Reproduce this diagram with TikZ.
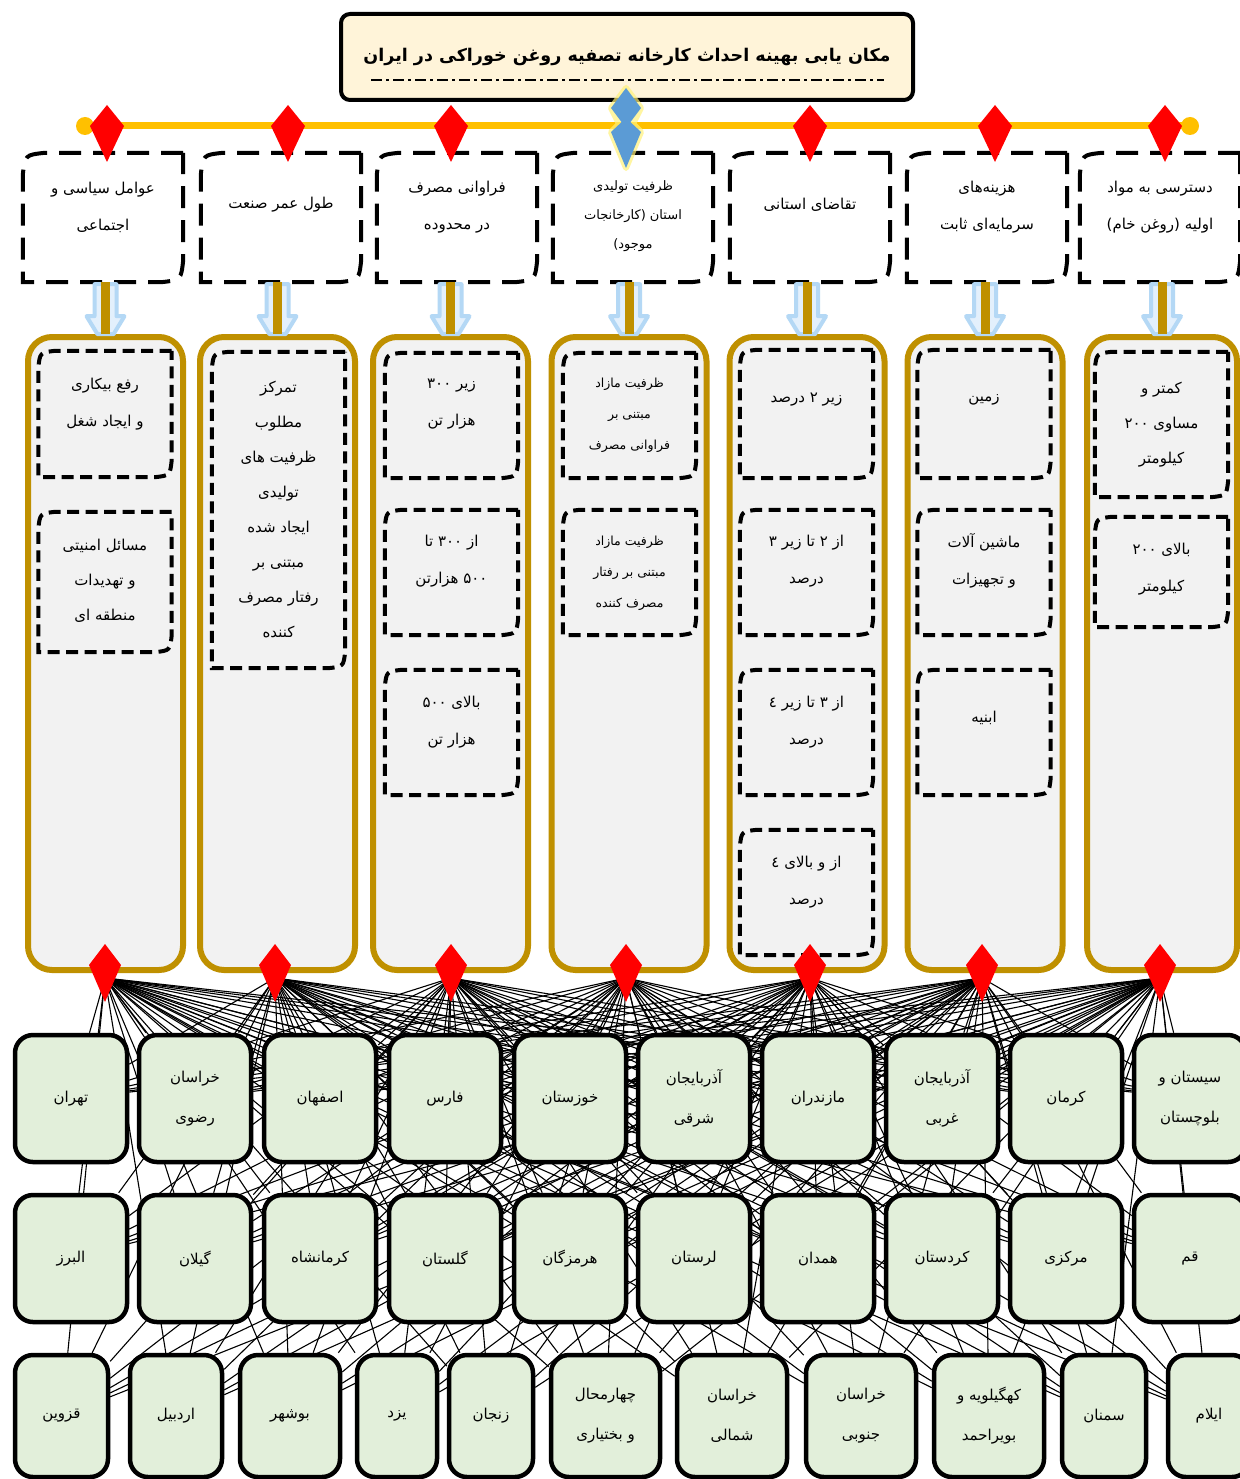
\documentclass[tikz,border=0pt]{standalone}
\usepackage{fontspec}
\TeXXeTstate=1
\newfontfamily\fafont[Script=Arabic]{DejaVu Sans}
\newcommand\fa[1]{{\fafont\beginR #1\endR}}
\usetikzlibrary{calc}
\pgfdeclarelayer{bg}
\pgfsetlayers{bg,main}
\definecolor{goldline}{HTML}{FFC000}
\definecolor{goldbox}{HTML}{BF9000}
\definecolor{panel}{HTML}{F2F2F2}
\definecolor{prov}{HTML}{E2EFDA}
\definecolor{titlefill}{HTML}{FFF4D9}
\definecolor{kblue}{HTML}{5B9BD5}
\definecolor{glowblue}{HTML}{E3F0FC}
\definecolor{glowedge}{HTML}{B4D8F5}
\definecolor{kred}{HTML}{FF0000}
\definecolor{halo}{HTML}{FFF27A}
\newcommand\snipoutline[3]{\draw[#3] (#1.north east) -- ([xshift=#2pt]#1.north west) .. controls ([xshift=0.1*#2pt,yshift=-0.1*#2pt]#1.north west) .. ([yshift=-#2pt]#1.north west) -- (#1.south west) -- ([xshift=-#2pt]#1.south east) .. controls ([xshift=-0.1*#2pt,yshift=0.1*#2pt]#1.south east) .. ([yshift=#2pt]#1.south east) -- cycle;}
\newcommand\kite[6]{\fill[#6] (#1,#2) -- ({#1+#5},#3) -- (#1,#4) -- ({#1-#5},#3) -- cycle;}
\begin{document}
\begin{tikzpicture}[x=1pt,y=-1pt,
  critbox/.style={minimum width=160pt,minimum height=129pt,inner sep=0pt,fill=white},
  critline/.style={line width=4pt,dash pattern=on 22pt off 12pt},
  subbox/.style={minimum width=133pt,inner sep=0pt},
  subline/.style={line width=4pt,dash pattern=on 12pt off 6.5pt},
  panelbox/.style={draw=goldbox,line width=6pt,fill=panel,rounded corners=24pt,minimum width=155pt,minimum height=633pt,inner sep=0pt},
  provbox/.style={draw=black,line width=4.5pt,fill=prov,rounded corners=18pt,inner sep=0pt,align=center,font=\fontsize{15}{40}\selectfont},
  lbl/.style={align=center,inner sep=0pt,font=\fontsize{15}{37}\selectfont},
  conn/.style={line width=1.1pt,black},
  goldbar/.style={draw=goldbox,line width=9pt},
  glow/.style={fill=glowblue,draw=glowedge,line width=4pt,line join=round},
]
\begin{pgfonlayer}{bg}
\fill[white] (0,0) rectangle (1239,1479);
\end{pgfonlayer}
\useasboundingbox (0,0) rectangle (1239,1479);

% title
\node[draw,line width=4pt,fill=titlefill,rounded corners=9pt,minimum width=572pt,minimum height=86pt,inner sep=0pt,font=\fontsize{17.5}{20}\selectfont\bfseries] (title) at (627,57) {\raisebox{4pt}{\fa{مکان یابی بهینه احداث کارخانه تصفیه روغن خوراکی در ایران}}};
\draw[line width=1.5pt,dash pattern=on 11pt off 4pt on 3pt off 4pt] ($(title.south west)+(32,-22)$) -- ($(title.south east)+(-31,-22)$);

% gold line
\coordinate (gl) at (85,126);
\coordinate (gr) at (1190,126);
\draw[goldline,line width=7pt] (gl) -- (gr);
\fill[goldline] (gl) circle[radius=9pt] (gr) circle[radius=9pt];

% criteria
\foreach \i/\x in {1/103,2/281,3/457,4/633,5/810,6/987,7/1160}{\node[critbox] (c\i) at (\x,217.5) {};}
\foreach \i in {1,...,7}{\snipoutline{c\i}{22}{critline}}
\node[lbl] (ct1) at (103,207) {\fa{عوامل سیاسی و}\\\fa{اجتماعی}};
\node[lbl] (ct2) at (281,205) {\fa{طول عمر صنعت}};
\node[lbl] (ct3) at (457,207) {\fa{فراوانی مصرف}\\\fa{در محدوده}};
\node[lbl,font=\fontsize{13}{29}\selectfont] (ct4) at (633,216) {\fa{ظرفیت تولیدی}\\\fa{استان (کارخانجات}\\\fa{موجود)}};
\node[lbl] (ct5) at (810,205) {\fa{تقاضای استانی}};
\node[lbl] (ct6) at (987,207) {\fa{هزینه‌های}\\\fa{سرمایه‌ای ثابت}};
\node[lbl] (ct7) at (1160,207) {\fa{دسترسی به مواد}\\\fa{اولیه (روغن خام)}};

% containers
\foreach \i/\x in {1/105.5,2/277.5,3/450.5,4/629,5/807,6/985}{\node[panelbox] (k\i) at (\x,653.5) {};}
\node[panelbox,minimum width=150pt] (k7) at (1162,653.5) {};

% glow arrows and gold bars
\foreach \i in {1,...,7}{
  \draw[glow] ($(c\i.south -| k\i.north)+(-11,2)$) -- ++(22,0) -- ++(0,32) -- ++(8,0) -- ++(-11,18) -- ++(-16,0) -- ++(-11,-18) -- ++(8,0) -- cycle;
  \draw[goldbar] (c\i.south -| k\i.north) -- (k\i.north);
}

% sub boxes
\node[subbox,minimum height=126pt] (s11) at (105,414) {};
\node[subbox,minimum height=140pt] (s12) at (105,582) {};
\node[subbox,minimum height=316pt] (s21) at (278.5,510) {};
\node[subbox,minimum height=125pt] (s31) at (451.5,415.5) {};
\node[subbox,minimum height=125pt] (s32) at (451.5,572.5) {};
\node[subbox,minimum height=125pt] (s33) at (451.5,732.5) {};
\node[subbox,minimum height=125pt] (s41) at (629.5,415.5) {};
\node[subbox,minimum height=125pt] (s42) at (629.5,572.5) {};
\node[subbox,minimum height=128pt] (s51) at (806.5,414) {};
\node[subbox,minimum height=125pt] (s52) at (806.5,572.5) {};
\node[subbox,minimum height=125pt] (s53) at (806.5,732.5) {};
\node[subbox,minimum height=125pt] (s54) at (806.5,892.5) {};
\node[subbox,minimum height=128pt] (s61) at (984,414) {};
\node[subbox,minimum height=125pt] (s62) at (984,572.5) {};
\node[subbox,minimum height=125pt] (s63) at (984,732.5) {};
\node[subbox,minimum height=145pt] (s71) at (1161.5,424.5) {};
\node[subbox,minimum height=110pt] (s72) at (1161.5,572) {};
\foreach \s in {s11,s12,s21,s31,s32,s33,s41,s42,s51,s52,s53,s54,s61,s62,s63,s71,s72}{\snipoutline{\s}{17}{subline}}

\node[lbl] (t11) at (105,404) {\fa{رفع بیکاری}\\\fa{و ایجاد شغل}};
\node[lbl,font=\fontsize{15}{35}\selectfont] (t12) at (105,581) {\fa{مسائل امنیتی}\\\fa{و تهدیدات}\\\fa{منطقه ای}};
\node[lbl,font=\fontsize{15}{35}\selectfont] (t21) at (278.5,510) {\fa{تمرکز}\\\fa{مطلوب}\\\fa{ظرفیت های}\\\fa{تولیدی}\\\fa{ایجاد شده}\\\fa{مبتنی بر}\\\fa{رفتار مصرف}\\\fa{کننده}};
\node[lbl] (t31) at (451.5,404) {\fa{زیر ۳۰۰}\\\fa{هزار تن}};
\node[lbl] (t32) at (451.5,561.5) {\fa{از ۳۰۰ تا}\\\fa{۵۰۰ هزارتن}};
\node[lbl] (t33) at (451.5,722) {\fa{بالای ۵۰۰}\\\fa{هزار تن}};
\node[lbl,font=\fontsize{12.5}{31}\selectfont] (t41) at (629.5,415.5) {\fa{ظرفیت مازاد}\\\fa{مبتنی بر}\\\fa{فراوانی مصرف}};
\node[lbl,font=\fontsize{12.5}{31}\selectfont] (t42) at (629.5,573) {\fa{ظرفیت مازاد}\\\fa{مبتنی بر رفتار}\\\fa{مصرف کننده}};
\node[lbl] (t51) at (806.5,400) {\fa{زیر ۲ درصد}};
\node[lbl] (t52) at (806.5,561) {\fa{از ۲ تا زیر ۳}\\\fa{درصد}};
\node[lbl] (t53) at (806.5,722) {\fa{از ۳ تا زیر ٤}\\\fa{درصد}};
\node[lbl] (t54) at (806.5,882) {\fa{از و بالای ٤}\\\fa{درصد}};
\node[lbl] (t61) at (984,400) {\fa{زمین}};
\node[lbl] (t62) at (984,561) {\fa{ماشین آلات}\\\fa{و تجهیزات}};
\node[lbl] (t63) at (984,718) {\fa{ابنیه}};
\node[lbl,font=\fontsize{15}{35}\selectfont] (t71) at (1161.5,425) {\fa{کمتر و}\\\fa{مساوی ۲۰۰}\\\fa{کیلومتر}};
\node[lbl] (t72) at (1161.5,569) {\fa{بالای ۲۰۰}\\\fa{کیلومتر}};

% top kites
\foreach \x in {107,288,451,810,995,1165}{\kite{\x}{105}{126}{162}{17}{kred}}
\draw[halo,line width=6pt,opacity=0.7,line join=round] (626,88) -- (641,108) -- (633,124) -- (641,132) -- (626,168) -- (611,132) -- (619,124) -- (611,108) -- cycle;
\kite{626}{118}{132}{168}{15}{kblue}
\kite{626}{88}{108}{128}{15}{kblue}

% bottom kites and anchor points
\foreach \i/\x in {1/105,2/275,3/451,4/626,5/810,6/982,7/1160}{
  \coordinate (bd\i) at (\x,978);
  \kite{\x}{944}{965}{1002}{16}{kred}
}

% provinces row 1
\foreach \i/\x/\t in {1/71/{\fa{تهران}},2/195/{\fa{خراسان}\\\fa{رضوی}},3/320/{\fa{اصفهان}},4/445/{\fa{فارس}},5/570/{\fa{خوزستان}},6/694/{\fa{آذربایجان}\\\fa{شرقی}},7/818/{\fa{مازندران}},8/942/{\fa{آذربایجان}\\\fa{غربی}},9/1066/{\fa{کرمان}},10/1190/{\fa{سیستان و}\\\fa{بلوچستان}}}{
  \node[provbox,minimum width=112pt,minimum height=127pt] (p\i) at (\x,1098.5) {\t};
}
% row 2
\foreach \i/\x/\t in {11/71/{\fa{البرز}},12/195/{\fa{گیلان}},13/320/{\fa{کرمانشاه}},14/445/{\fa{گلستان}},15/570/{\fa{هرمزگان}},16/694/{\fa{لرستان}},17/818/{\fa{همدان}},18/942/{\fa{کردستان}},19/1066/{\fa{مرکزی}},20/1190/{\fa{قم}}}{
  \node[provbox,minimum width=112pt,minimum height=127pt] (p\i) at (\x,1258.5) {\t};
}
% row 3
\foreach \i/\x/\w/\t in {21/61.5/93/{\fa{قزوین}},22/176/92/{\fa{اردبیل}},23/290/100/{\fa{بوشهر}},24/397/80/{\fa{یزد}},25/491/84/{\fa{زنجان}},26/605.5/109/{\fa{چهارمحال}\\\fa{و بختیاری}},27/732/110/{\fa{خراسان}\\\fa{شمالی}},28/861/110/{\fa{خراسان}\\\fa{جنوبی}},29/989/110/{\fa{کهگیلویه و}\\\fa{بویراحمد}},30/1104/84/{\fa{سمنان}},31/1209/82/{\fa{ایلام}}}{
  \node[provbox,minimum width=\w pt,minimum height=122pt] (p\i) at (\x,1416) {\t};
}

% connectors
\begin{pgfonlayer}{bg}
\foreach \d in {1,...,7}{\foreach \p in {1,...,31}{\draw[conn] (bd\d) -- (p\p);}}
\end{pgfonlayer}
\end{tikzpicture}
\end{document}
